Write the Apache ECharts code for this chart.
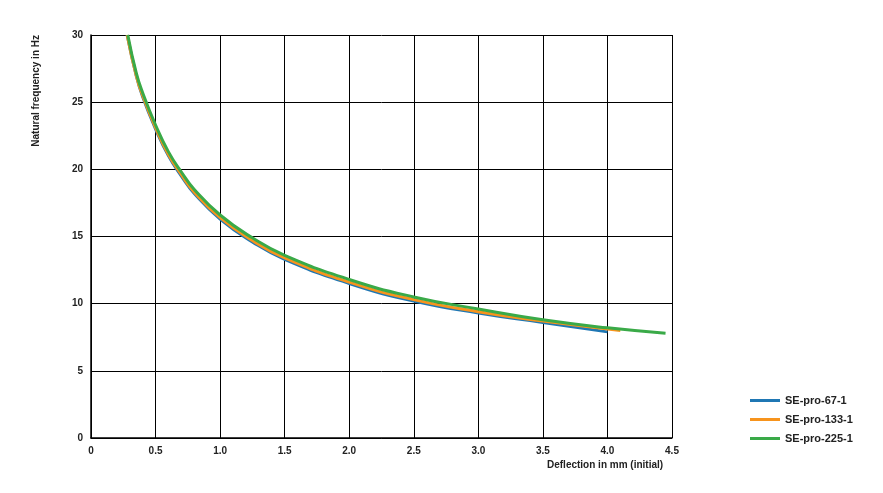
<!DOCTYPE html>
<html>
<head>
<meta charset="UTF-8">
<script src="https://cdn.jsdelivr.net/npm/echarts@6/dist/echarts.min.js"></script>
</head>
<body style="margin:0">
<div id="main" style="width:883px;height:493px;"></div>
<script>
var names = ['SE-pro-67-1', 'SE-pro-133-1', 'SE-pro-225-1'];
var colors = ['#1f77b4', '#f7941d', '#3aaa48'];
var blue = [[0.28,30],[0.35,27],[0.4,25.4],[0.5,23],[0.6,21],[0.7,19.5],[0.8,18.2],[1.0,16.3],[1.25,14.6],[1.5,13.3],[2.0,11.5],[2.5,10.2],[3.0,9.3],[3.5,8.6],[4.0,7.9]];
var orange = [[0.28,30],[0.35,27],[0.4,25.5],[0.5,23.1],[0.6,21.1],[0.7,19.6],[0.8,18.3],[1.0,16.4],[1.25,14.7],[1.5,13.4],[2.0,11.6],[2.5,10.3],[3.0,9.4],[3.5,8.7],[4.1,8.0]];
var green = [[0.285,30],[0.35,27.2],[0.4,25.7],[0.5,23.3],[0.6,21.3],[0.7,19.8],[0.8,18.5],[1.0,16.6],[1.25,14.9],[1.5,13.6],[2.0,11.8],[2.5,10.5],[3.0,9.6],[3.5,8.8],[4.0,8.2],[4.45,7.8]];
var seriesData = [blue, orange, green];

var chart = echarts.init(document.getElementById('main'));
var font = 'Liberation Sans';
chart.setOption({
  animation: false,
  grid: { left: 91, right: 211, top: 35, bottom: 55 },
  legend: {
    orient: 'vertical', left: 745, top: 390, itemWidth: 30, itemHeight: 3, itemGap: 8,
    icon: 'rect',
    textStyle: { fontFamily: font, fontWeight: 'bold', fontSize: 11, color: '#222' },
    data: names
  },
  xAxis: {
    type: 'value', min: 0, max: 4.5, interval: 0.5,
    name: 'Deflection in mm (initial)', nameLocation: 'end',
    nameGap: -125, nameTextStyle: { verticalAlign: 'top', padding: [22, 0, 0, 0], fontFamily: font, fontWeight: 'bold', fontSize: 10, color: '#222' },
    axisLine: { lineStyle: { color: '#000', width: 1.5 } },
    axisTick: { show: false },
    axisLabel: { fontFamily: font, fontWeight: 'bold', fontSize: 10, color: '#222',
      formatter: function (v) { return v === 0 ? '0' : v.toFixed(1); } },
    splitLine: { lineStyle: { color: '#000', width: 1 } }
  },
  yAxis: {
    type: 'value', min: 0, max: 30, interval: 5,
    name: 'Natural frequency in Hz', nameLocation: 'end', nameRotate: 90, nameGap: 0,
    nameTextStyle: { align: 'right', verticalAlign: 'bottom', padding: [0, 0, 50, 0], fontFamily: font, fontWeight: 'bold', fontSize: 10, color: '#222' },
    axisLine: { show: true, lineStyle: { color: '#000', width: 1.5 } },
    axisTick: { show: false },
    axisLabel: { fontFamily: font, fontWeight: 'bold', fontSize: 10, color: '#222' },
    splitLine: { lineStyle: { color: '#000', width: 1 } }
  },
  series: names.map(function (n, i) {
    return { name: n, type: 'line', data: seriesData[i], smooth: true, showSymbol: false,
      clip: true, color: colors[i], lineStyle: { width: 3, color: colors[i] } };
  })
});
</script>
</body>
</html>
